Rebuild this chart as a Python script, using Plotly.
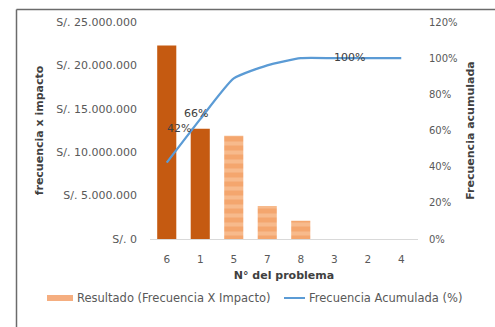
import plotly.graph_objects as go

# Pareto data: problem number and cost impact (S/.)
problemas = ["6", "1", "5", "7", "8", "3", "2", "4"]
impacto = [22300000, 12700000, 11900000, 3800000, 2100000, 0, 0, 0]
etiquetas_pct = ["6", "1", "3"]          # points whose cumulative % is labelled

total = sum(impacto)
acumulado = []
s = 0
for v in impacto:
    s += v
    acumulado.append(s / total)

# "vital few" (cumulative share up to 80 %) in solid dark orange,
# the rest in the lighter striped fill
vitales = [i for i, a in enumerate(acumulado) if a <= 0.8]
resto = [i for i in range(len(problemas)) if i not in vitales]

GRIS = "#595959"
OSCURO = "#404040"
FUENTE = "DejaVu Sans, Verdana, sans-serif"
NARANJA = "#C55A11"
NARANJA_CLARO = "#F4A66E"
FRANJA = "#F9CDAA"
AZUL = "#5B9BD5"

# plot-area geometry in pixels (used for the frame and the hand-built legend)
W, H = 495, 327
ML, MR, MT, MB = 150, 77, 22, 88
PW, PH = W - ML - MR, H - MT - MB


def px(xp):
    return (xp - ML) / PW


def py(yp):
    return (H - MB - yp) / PH


fig = go.Figure()

fig.add_trace(go.Bar(
    x=[problemas[i] for i in vitales],
    y=[impacto[i] for i in vitales],
    marker=dict(color=NARANJA, line=dict(width=0)),
    name="Resultado (Frecuencia X Impacto)",
))
fig.add_trace(go.Bar(
    x=[problemas[i] for i in resto],
    y=[impacto[i] for i in resto],
    marker=dict(color=NARANJA_CLARO, line=dict(width=0),
                pattern=dict(shape="-", fgcolor=FRANJA, bgcolor=NARANJA_CLARO,
                             size=9, solidity=0.45)),
    name="Resultado (Frecuencia X Impacto)",
))
fig.add_trace(go.Scatter(
    x=problemas, y=acumulado, yaxis="y2", mode="lines",
    line=dict(color=AZUL, width=2.3, shape="spline", smoothing=0.5),
    name="Frecuencia Acumulada (%)",
))

# cumulative % labels (x given as category index)
desp = {"6": (12, 34), "1": (-4, 6), "3": (15, 1)}
for c in etiquetas_pct:
    i = problemas.index(c)
    dx, dy = desp[c]
    fig.add_annotation(
        x=i, y=acumulado[i], yref="y2", xref="x",
        text=f"{round(acumulado[i] * 100):.0f}%", showarrow=False,
        xshift=dx, yshift=dy, yanchor="middle", xanchor="center",
        font=dict(size=11, color=OSCURO, family=FUENTE),
    )

# legend drawn as shapes + text
ley_y = 298
fig.add_shape(type="rect", xref="paper", yref="paper",
              x0=px(47), x1=px(73), y0=py(301), y1=py(295),
              fillcolor="#F5AE80", line=dict(width=0))
fig.add_shape(type="line", xref="paper", yref="paper",
              x0=px(284), x1=px(305), y0=py(ley_y), y1=py(ley_y),
              line=dict(color=AZUL, width=2))
fig.add_annotation(xref="paper", yref="paper", x=px(75), y=py(ley_y),
                   xanchor="left", yanchor="middle", showarrow=False,
                   text="Resultado (Frecuencia X Impacto)",
                   font=dict(size=11.5, color=GRIS, family=FUENTE))
fig.add_annotation(xref="paper", yref="paper", x=px(307), y=py(ley_y),
                   xanchor="left", yanchor="middle", showarrow=False,
                   text="Frecuencia Acumulada (%)",
                   font=dict(size=11.5, color=GRIS, family=FUENTE))

# outer frame (left and top edges)
fig.add_shape(type="line", xref="paper", yref="paper",
              x0=px(16.5), x1=px(16.5), y0=py(9.5), y1=py(330),
              line=dict(color="#6b6b6b", width=1.5))
fig.add_shape(type="line", xref="paper", yref="paper",
              x0=px(16.5), x1=px(497), y0=py(9.5), y1=py(9.5),
              line=dict(color="#6b6b6b", width=1.5))

fig.update_layout(
    width=W, height=H,
    margin=dict(l=ML, r=MR, t=MT, b=MB),
    paper_bgcolor="white", plot_bgcolor="white",
    separators=",.",
    barmode="overlay", bargap=0.43,
    font=dict(family=FUENTE, size=10, color=GRIS),
    showlegend=False,
    xaxis=dict(
        type="category", showgrid=False, showline=True, linecolor="#D9D9D9",
        linewidth=1, ticks="", ticklabelstandoff=10, tickfont=dict(size=10.5),
        title=dict(text="<b>N° del problema</b>", standoff=7,
                   font=dict(size=11, color=OSCURO)),
    ),
    yaxis=dict(
        range=[0, 25000000], dtick=5000000, tickprefix="S/. ", tickformat=",d",
        showgrid=False, zeroline=False, showline=False, ticklabelstandoff=12,
        tickfont=dict(size=11),
        title=dict(text="<b>frecuencia x impacto</b>", standoff=10,
                   font=dict(size=11, color=OSCURO)),
    ),
    yaxis2=dict(
        overlaying="y", side="right", range=[0, 1.2], dtick=0.2, tickformat=".0%",
        showgrid=False, zeroline=False, showline=False, ticklabelstandoff=10,
        tickfont=dict(size=10),
        title=dict(text="<b>Frecuencia acumulada</b>", standoff=9,
                   font=dict(size=11, color=OSCURO)),
    ),
)

fig.write_html("out.html")
